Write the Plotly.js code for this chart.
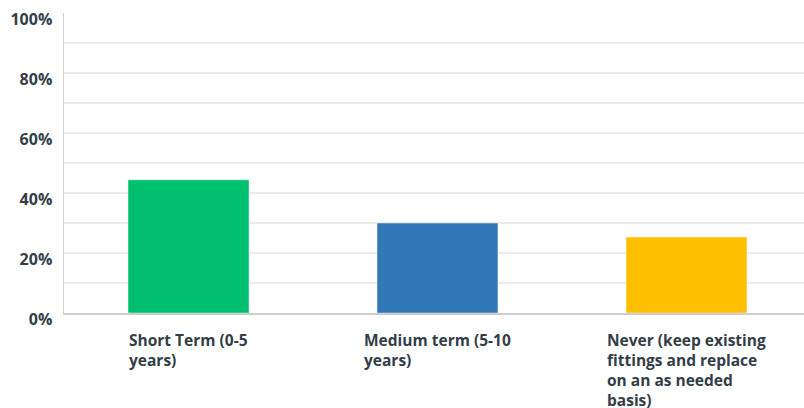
<!DOCTYPE html>
<html>
<head>
<meta charset="utf-8">
<script src="https://cdn.plot.ly/plotly-3.0.1.min.js"></script>
<style>
  html, body { margin: 0; padding: 0; background: #ffffff; }
  #chart { width: 804px; height: 408px; }
</style>
</head>
<body>
<div id="chart"></div>
<script>
// Survey answers: when fittings are expected to be replaced
const categories = [
  "Short Term (0-5<br>years)",
  "Medium term (5-10<br>years)",
  "Never (keep existing<br>fittings and replace<br>on an as needed<br>basis)"
];
const shares = [44.4, 30.0, 25.3];
const barColors = ["#00bf6f", "#3378b6", "#ffbf00"];
// grid every 10 %, labels every 20 %
const yTickVals = [0, 10, 20, 30, 40, 50, 60, 70, 80, 90, 100];
const yTickText = ["0%", "", "20%", "", "40%", "", "60%", "", "80%", "", "100%"];

const xKeys = categories.map((_, i) => i);
const textColor = "#333e48";

const trace = {
  type: "bar",
  x: xKeys,
  y: shares,
  marker: {
    color: barColors,
    line: { color: "rgba(255,255,255,0.45)", width: 1 }
  },
  width: 0.486,
  hoverinfo: "skip"
};

// multi-line category captions, left-aligned lines centred under each bar
const captions = categories.map((c, i) => ({
  text: c,
  xref: "x",
  yref: "paper",
  x: xKeys[i],
  y: 0,
  xanchor: "center",
  yanchor: "top",
  align: "left",
  yshift: -14,
  showarrow: false,
  font: { family: "'Open Sans', sans-serif", size: 15.5, weight: 700, color: textColor }
}));

const layout = {
  width: 804,
  height: 408,
  margin: { l: 64, r: 0, t: 12.5, b: 95 },
  paper_bgcolor: "#ffffff",
  plot_bgcolor: "#ffffff",
  showlegend: false,
  xaxis: {
    range: [-0.5, 2.472],
    showticklabels: false,
    showgrid: false,
    zeroline: false,
    showline: true,
    linecolor: "#cdcdcd",
    linewidth: 2,
    fixedrange: true
  },
  yaxis: {
    range: [0, 100],
    tickvals: yTickVals,
    ticktext: yTickText,
    showgrid: true,
    gridcolor: "#ebebeb",
    gridwidth: 1.5,
    zeroline: false,
    showline: true,
    linecolor: "#cfcfcf",
    linewidth: 1.5,
    ticks: "",
    ticklabelstandoff: 7,
    ticklabelshift: 6,
    tickfont: { family: "'Open Sans', sans-serif", size: 16, weight: 700, color: textColor },
    fixedrange: true
  },
  annotations: captions,
  bargap: 0.5
};

Plotly.newPlot("chart", [trace], layout, { displayModeBar: false, staticPlot: true });
</script>
</body>
</html>
